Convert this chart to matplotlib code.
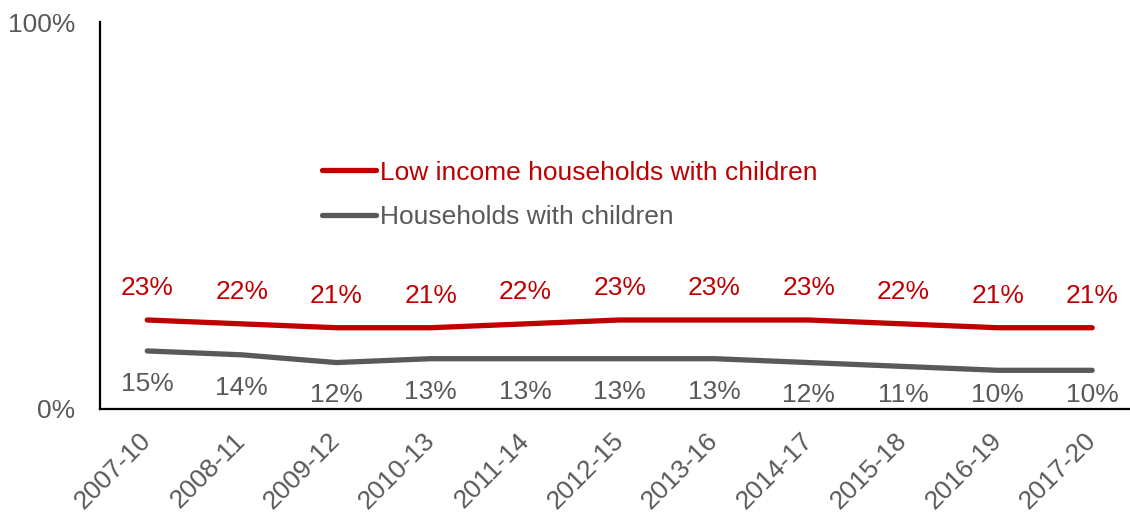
import matplotlib.pyplot as plt

plt.rcParams['font.family'] = ['Liberation Sans', 'DejaVu Sans']

years = ['2007-10', '2008-11', '2009-12', '2010-13', '2011-14', '2012-15',
         '2013-16', '2014-17', '2015-18', '2016-19', '2017-20']
low_income = [23, 22, 21, 21, 22, 23, 23, 23, 22, 21, 21]
all_households = [15, 14, 12, 13, 13, 13, 13, 12, 11, 10, 10]

red = '#C00000'
grey = '#595959'
fs = 19

fig = plt.figure(figsize=(11.3, 5.13), dpi=100)
ax = fig.add_axes([100 / 1130, 104 / 513, 1030 / 1130, 387 / 513])

x = range(len(years))
ax.plot(x, low_income, color=red, lw=3.8, solid_capstyle='round',
        label='Low income households with children')
ax.plot(x, all_households, color=grey, lw=3.8, solid_capstyle='round',
        label='Households with children')

# value labels: red above the line, grey below (kept clear of the x axis)
pt_per_pct = 387 / 100 * 0.72
for i, v in enumerate(low_income):
    ax.annotate(f'{v}%', (i, v), xytext=(0, 23), textcoords='offset points',
                ha='center', va='center', color=red, fontsize=fs)
for i, v in enumerate(all_households):
    off = min(24, v * pt_per_pct - 10)
    ax.annotate(f'{v}%', (i, v), xytext=(0, -off), textcoords='offset points',
                ha='center', va='center', color=grey, fontsize=fs)

ax.set_ylim(0, 100)
ax.set_xlim(-0.5, 10.4)
ax.set_yticks([0, 100])
ax.set_yticklabels(['0%', '100%'])
ax.set_xticks(list(x))
ax.set_xticklabels(years, rotation=45, ha='right', va='center',
                   rotation_mode='anchor')
ax.tick_params(axis='both', length=0, labelsize=fs, labelcolor=grey)
ax.tick_params(axis='y', pad=18)
ax.tick_params(axis='x', pad=20)

for s in ['top', 'right']:
    ax.spines[s].set_visible(False)
for s in ['left', 'bottom']:
    ax.spines[s].set_linewidth(1.6)
    ax.spines[s].set_color('black')

ax.legend(loc='upper left', bbox_to_anchor=(0.192, 0.703), frameon=False,
          fontsize=fs, labelcolor='linecolor', handlelength=2.05,
          handletextpad=0.15, labelspacing=0.78)

fig.savefig('out.png', dpi=100)
